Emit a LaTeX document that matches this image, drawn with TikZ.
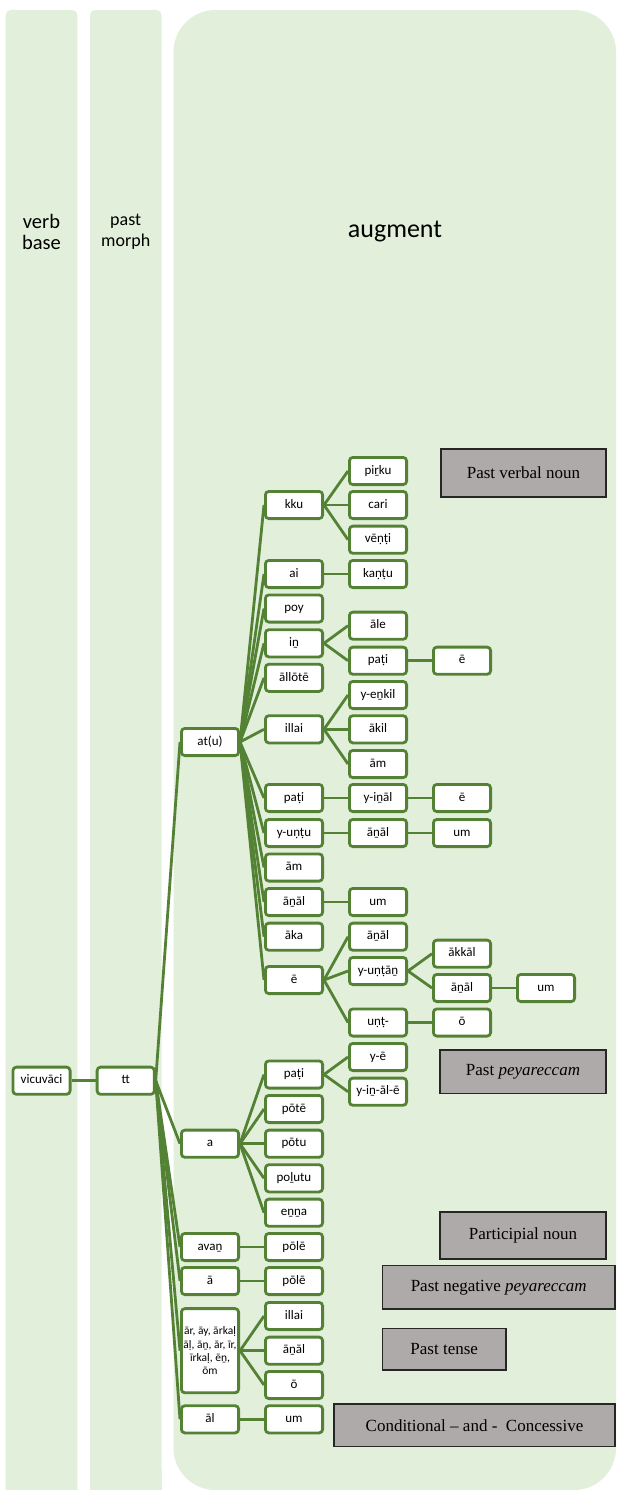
\documentclass[tikz,border=0pt]{standalone}
\usepackage{fontspec}
\setmainfont{Carlito}
\newfontfamily\timesf{Liberation Serif}
\definecolor{bggreen}{HTML}{E2EFDA}
\definecolor{lgreen}{HTML}{548235}
\definecolor{boxgray}{HTML}{AEAAAA}
\pgfdeclarelayer{back}
\pgfdeclarelayer{mid}
\pgfsetlayers{back,mid,main}
\begin{document}
\begin{tikzpicture}[x=1pt,y=-1pt,
  basebox/.style={draw=lgreen, line width=2.8pt, fill=white, rounded corners=3.5pt,
    minimum width=57.2pt, minimum height=27.2pt, inner sep=1pt},
  mbox/.style={basebox, font=\fontsize{13}{15}\selectfont, text height=9pt, text depth=2.5pt},
  gbox/.style={draw=black!85, line width=1.3pt, fill=boxgray, inner sep=0pt,
    font=\timesf\fontsize{17}{20}\selectfont},
  conn/.style={lgreen, line width=2.8pt},
  colbg/.style={fill=bggreen}
]
\useasboundingbox (0,0) rectangle (616,1490);

% column backgrounds
\begin{pgfonlayer}{back}
\fill[colbg, rounded corners=5pt] (5.7,10) rectangle (77.3,1500);
\fill[colbg, rounded corners=5pt] (90,10) rectangle (161.5,1500);
\fill[colbg, rounded corners=42pt] (173.5,10) rectangle (616,1490);
\fill[colbg] (5.7,1470) rectangle (77.3,1490);
\fill[colbg] (90,1470) rectangle (161.5,1490);
\end{pgfonlayer}

% column labels
\node[font=\fontsize{20.5}{21.5}\selectfont, align=center] (lblverb) at (41.5,232) {verb\\base};
\node[font=\fontsize{18}{21.5}\selectfont, align=center] (lblpast) at (125.7,232) {past\\morph};
\node[font=\fontsize{26}{28}\selectfont] (lblaug) at (395,232) {augment};

% level 0/1
\node[mbox] (vic) at (41.5,1080.7) {vicuvāci};
\node[mbox] (tt) at (125.7,1080.7) {tt};

% column X
\node[mbox] (atu) at (210,742) {at(u)};
\node[mbox] (a) at (210,1143.7) {a};
\node[mbox] (avan) at (210,1247) {avaṉ};
\node[mbox] (aa) at (210,1281) {ā};
\node[basebox, minimum height=84.2pt, align=center, font=\fontsize{11.5}{13.3}\selectfont] (big) at (210,1350.7)
  {ār, āy, ārkaḷ\\āḷ, āṉ, ār, īr,\\īrkaḷ, ēṉ,\\ōm};
\node[mbox] (al) at (210,1419.3) {āl};

% column A
\node[mbox] (kku) at (294,505) {kku};
\node[mbox] (ai) at (294,574) {ai};
\node[mbox] (poy) at (294,608.5) {poy};
\node[mbox] (in) at (294,643.3) {iṉ};
\node[mbox] (allote) at (294,677.8) {āllōtē};
\node[mbox] (illai) at (294,729.3) {illai};
\node[mbox] (pati1) at (294,798) {paṭi};
\node[mbox] (yuntu) at (294,833) {y-uṇṭu};
\node[mbox] (am1) at (294,867.5) {ām};
\node[mbox] (anal1) at (294,902) {āṉāl};
\node[mbox] (aka) at (294,936.7) {āka};
\node[mbox] (ee) at (294,980) {ē};
\node[mbox] (pati2) at (294,1074.5) {paṭi};
\node[mbox] (pote) at (294,1109) {pōtē};
\node[mbox] (potu) at (294,1143.7) {pōtu};
\node[mbox] (polutu) at (294,1178.3) {poḻutu};
\node[mbox] (enna) at (294,1212.7) {eṉṉa};
\node[mbox] (pole1) at (294,1247) {pōlē};
\node[mbox] (pole2) at (294,1281) {pōlē};
\node[mbox] (illai2) at (294,1316) {illai};
\node[mbox] (anal2) at (294,1350.7) {āṉāl};
\node[mbox] (oo1) at (294,1385) {ō};
\node[mbox] (um1) at (294,1419.3) {um};

% column B
\node[mbox] (pirku) at (378,471) {piṟku};
\node[mbox] (cari) at (378,505) {cari};
\node[mbox] (venti) at (378,539.7) {vēṇṭi};
\node[mbox] (kantu) at (378,574) {kaṇṭu};
\node[mbox] (ale) at (378,625.7) {āle};
\node[mbox] (pati3) at (378,660.7) {paṭi};
\node[mbox] (yenkil) at (378,695) {y-eṉkil};
\node[mbox] (akil) at (378,729.3) {ākil};
\node[mbox] (am2) at (378,764) {ām};
\node[mbox] (yinal) at (378,798) {y-iṉāl};
\node[mbox] (anal3) at (378,833) {āṉāl};
\node[mbox] (um2) at (378,902) {um};
\node[mbox] (anal4) at (378,936.7) {āṉāl};
\node[mbox] (yuntan) at (378,971) {y-uṇṭāṉ};
\node[mbox] (unt) at (378,1022.5) {uṇṭ-};
\node[mbox] (ye) at (378,1057) {y-ē};
\node[mbox] (yinale) at (378,1091.7) {y-iṉ-āl-ē};

% column C
\node[mbox] (ee2) at (462,660.7) {ē};
\node[mbox] (ee3) at (462,798) {ē};
\node[mbox] (um3) at (462,833) {um};
\node[mbox] (akkal) at (462,953.7) {ākkāl};
\node[mbox] (anal5) at (462,988) {āṉāl};
\node[mbox] (oo2) at (462,1022.5) {ō};

% column D
\node[mbox] (um4) at (546,988) {um};

% gray labels
\node[gbox, minimum width=165pt, minimum height=48pt] (pvn) at (523.5,473) {Past verbal noun};
\node[gbox, minimum width=166pt, minimum height=43.3pt] (ppey) at (523,1071.7) {Past \textit{peyareccam}};
\node[gbox, minimum width=166pt, minimum height=47pt] (partn) at (523,1235.5) {Participial noun};
\node[gbox, minimum width=232.7pt, minimum height=43.3pt] (pneg) at (498.7,1287.4) {Past negative \textit{peyareccam}};
\node[gbox, minimum width=123.7pt, minimum height=41.7pt] (ptense) at (444.2,1349.2) {Past tense};
\node[gbox, minimum width=281pt, minimum height=42.7pt] (cond) at (474.5,1425.4) {Conditional – and -\ \ Concessive};

% connectors
\begin{pgfonlayer}{mid}
\foreach \p/\c in {vic/tt, tt/atu, tt/a, tt/avan, tt/aa, tt/big, tt/al,
  atu/kku, atu/ai, atu/poy, atu/in, atu/allote, atu/illai, atu/pati1, atu/yuntu,
  atu/am1, atu/anal1, atu/aka, atu/ee,
  kku/pirku, kku/cari, kku/venti, ai/kantu, in/ale, in/pati3, pati3/ee2,
  illai/yenkil, illai/akil, illai/am2, pati1/yinal, yinal/ee3,
  yuntu/anal3, anal3/um3, anal1/um2,
  ee/anal4, ee/yuntan, ee/unt, yuntan/akkal, yuntan/anal5, anal5/um4, unt/oo2,
  a/pati2, a/pote, a/potu, a/polutu, a/enna, pati2/ye, pati2/yinale,
  avan/pole1, aa/pole2, big/illai2, big/anal2, big/oo1, al/um1}
  \draw[conn] (\p.east) -- (\c.west);
\end{pgfonlayer}
\end{tikzpicture}
\end{document}
